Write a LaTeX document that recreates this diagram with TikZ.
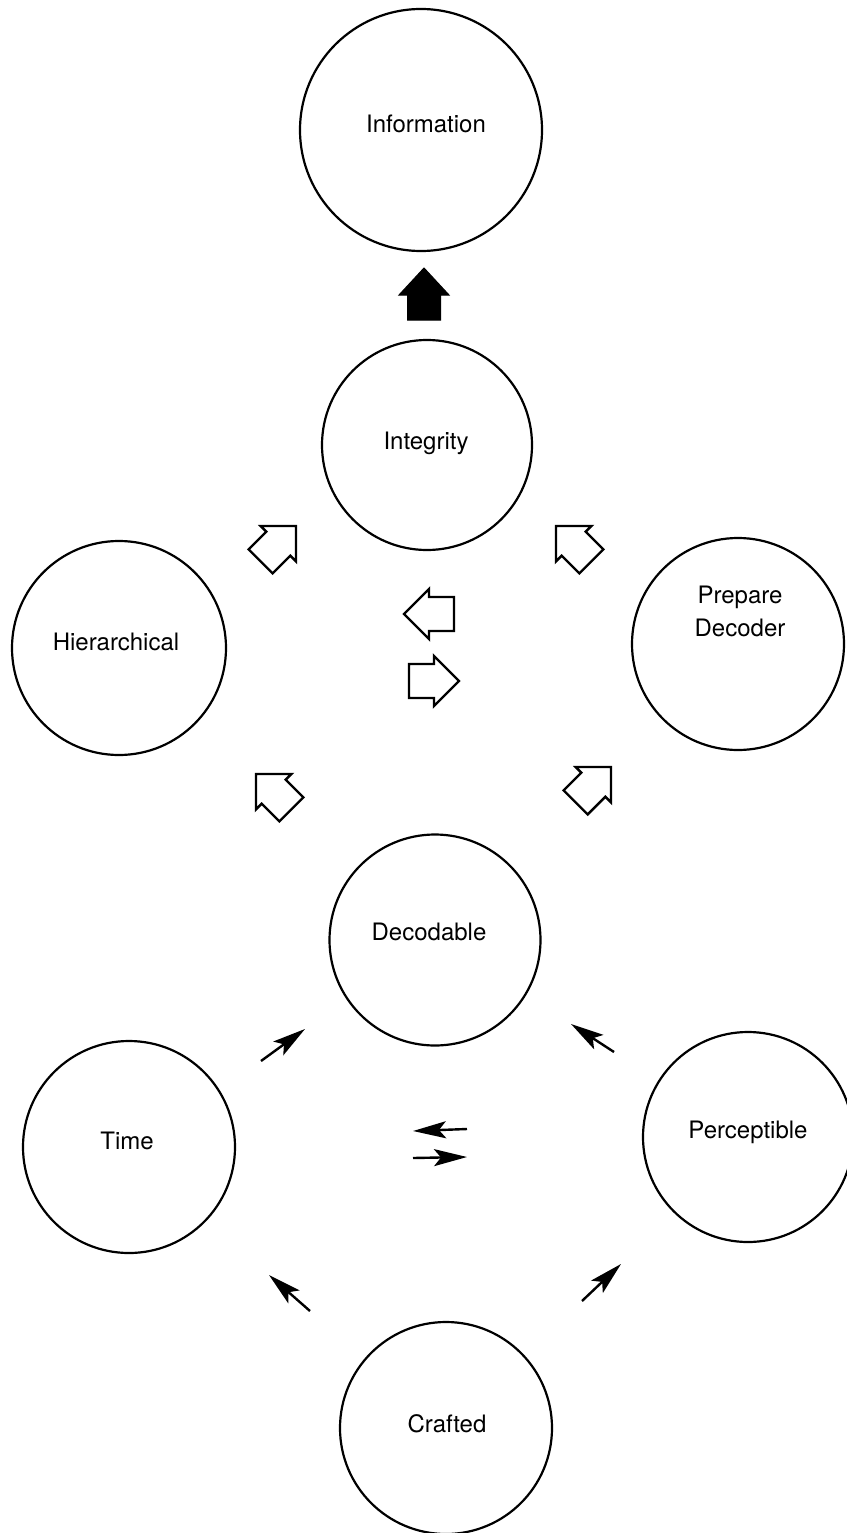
\documentclass[tikz,border=0pt]{standalone}
\usepackage{fontspec}
\setmainfont{TeX Gyre Heros}
\usetikzlibrary{arrows.meta}
\newcommand\myblockarrow[4]{%
  \draw[#4, shift={#2}, rotate=#3] (0,0) coordinate (#1) -- (-25,25) -- (-25,17) -- (-50,17)
     -- (-50,-17) -- (-25,-17) -- (-25,-25) -- cycle;}
\begin{document}
\begin{tikzpicture}[x=1pt,y=-1pt,
  bubble/.style={circle, draw, line width=2.2pt, inner sep=0pt},
  lbl/.style={font=\fontsize{24}{33}\selectfont, align=center, inner sep=0pt, text height=17pt, text depth=0pt},
  hollowarrow/.style={draw, line width=2.4pt, line join=miter, fill=white},
  solidarrow/.style={draw, fill=black, line width=1pt, line join=miter},
  thinarrow/.style={line width=2.4pt, -{Stealth[length=33pt, width=17pt, inset=7pt]}}
]
\useasboundingbox (0,0) rectangle (846,1533);
% circles
\node[bubble, minimum size=242pt] (info)   at (421,130)  {};
\node[bubble, minimum size=210pt] (integ)  at (427,445)  {};
\node[bubble, minimum size=214pt] (hier)   at (119,648)  {};
\node[bubble, minimum size=212pt] (prep)   at (738,644)  {};
\node[bubble, minimum size=211pt] (decod)  at (435,940)  {};
\node[bubble, minimum size=212pt] (time)   at (129,1147) {};
\node[bubble, minimum size=210pt] (percep) at (748,1137) {};
\node[bubble, minimum size=212pt] (craft)  at (446,1428) {};
% labels
\node[lbl] (tinfo)   at (426,124)  {Information};
\node[lbl] (tinteg)  at (426,441)  {Integrity};
\node[lbl] (thier)   at (116,642)  {Hierarchical};
\node[lbl] (tprep)   at (740,628)  {Prepare\\Decoder};
\node[lbl] (tdecod)  at (429,932)  {Decodable};
\node[lbl] (ttime)   at (127,1141) {Time};
\node[lbl] (tpercep) at (748,1130) {Perceptible};
\node[lbl] (tcraft)  at (447,1424) {Crafted};
% solid arrow Integrity -> Information
\draw[solidarrow] (424,268) coordinate (sa) -- (449,295) -- (440.5,295) -- (440.5,320)
   -- (407.5,320) -- (407.5,295) -- (399,295) -- cycle;
% hollow arrows
\myblockarrow{ul}{(296,526)}{45}{hollowarrow}
\myblockarrow{ur}{(556,526)}{135}{hollowarrow}
\myblockarrow{hl}{(404,614)}{180}{hollowarrow}
\myblockarrow{hr}{(459,681)}{0}{hollowarrow}
\myblockarrow{ll}{(256,774)}{135}{hollowarrow}
\myblockarrow{lr}{(611,767)}{45}{hollowarrow}
% thin arrows
\coordinate (a1s) at (261,1061); \coordinate (a1e) at (305,1029);
\coordinate (a2s) at (614,1052); \coordinate (a2e) at (571,1024);
\coordinate (a3s) at (467,1129); \coordinate (a3e) at (413,1131);
\coordinate (a4s) at (413,1158); \coordinate (a4e) at (467,1157);
\coordinate (a5s) at (310,1311); \coordinate (a5e) at (269,1275);
\coordinate (a6s) at (582,1301); \coordinate (a6e) at (621,1264);
\draw[thinarrow] (a1s) -- (a1e);
\draw[thinarrow] (a2s) -- (a2e);
\draw[thinarrow] (a3s) -- (a3e);
\draw[thinarrow] (a4s) -- (a4e);
\draw[thinarrow] (a5s) -- (a5e);
\draw[thinarrow] (a6s) -- (a6e);
\end{tikzpicture}
\end{document}
